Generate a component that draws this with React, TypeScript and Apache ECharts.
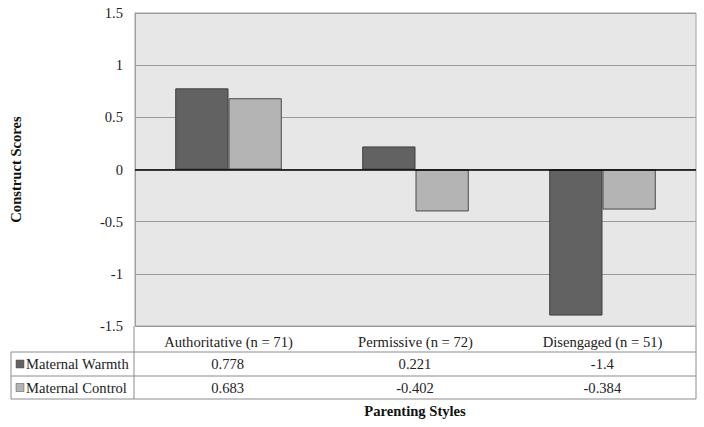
import React, { useEffect, useRef } from "react";
import * as echarts from "echarts";

const categories = ["Authoritative (n = 71)", "Permissive (n = 72)", "Disengaged (n = 51)"];
const seriesNames = ["Maternal Warmth", "Maternal Control"];
const warmth = [0.778, 0.221, -1.4];
const control = [0.683, -0.402, -0.384];
const warmthLabels = ["0.778", "0.221", "-1.4"];
const controlLabels = ["0.683", "-0.402", "-0.384"];
const colors = ["#626262", "#b4b4b4"];

const FONT = "'Liberation Serif', 'Times New Roman', serif";
const FS = 14.6;
const W = 704;
const H = 427;
const GL = 134;
const GR = 696;
const GT = 13;
const GB = 326;

export default function App() {
  const ref = useRef<HTMLDivElement>(null);
  useEffect(() => {
    if (!ref.current) return;
    const chart = echarts.init(ref.current, undefined, { renderer: "svg" });
    const colW = (GR - GL) / categories.length;
    const rowY = [326, 352, 376, 399];
    const tableLine = "#8c8c8c";
    const graphic: any[] = [];
    const hline = (x1: number, x2: number, y: number) =>
      graphic.push({ type: "line", shape: { x1, y1: y, x2, y2: y }, style: { stroke: tableLine, lineWidth: 1 }, silent: true });
    const vline = (x: number, y1: number, y2: number) =>
      graphic.push({ type: "line", shape: { x1: x, y1, x2: x, y2 }, style: { stroke: tableLine, lineWidth: 1 }, silent: true });
    hline(11, GR, rowY[1]);
    hline(11, GR, rowY[2]);
    hline(11, GR, rowY[3]);
    vline(11, rowY[1], rowY[3]);
    vline(GL, rowY[0], rowY[3]);
    vline(GR, rowY[0], rowY[3]);
    const rows = [warmthLabels, controlLabels];
    rows.forEach((vals, r) => {
      const cy = (rowY[r + 1] + rowY[r + 2]) / 2;
      graphic.push({
        type: "rect",
        shape: { x: 16, y: cy - 4, width: 8, height: 8 },
        style: { fill: colors[r], stroke: "#505050", lineWidth: 0.5 },
        silent: true,
      });
      graphic.push({
        type: "text",
        x: 26,
        y: cy,
        style: { text: seriesNames[r], font: `${FS}px ${FONT}`, fill: "#222", verticalAlign: "middle" },
        silent: true,
      });
      vals.forEach((v, i) => {
        graphic.push({
          type: "text",
          x: GL + colW * (i + 0.5),
          y: cy,
          style: { text: v, font: `${FS}px ${FONT}`, fill: "#222", align: "center", verticalAlign: "middle" },
          silent: true,
        });
      });
    });
    graphic.push({
      type: "text",
      x: (GL + GR) / 2,
      y: 411,
      style: { text: "Parenting Styles", font: `bold ${FS}px ${FONT}`, fill: "#111", align: "center", verticalAlign: "middle" },
      silent: true,
    });

    chart.setOption({
      animation: false,
      backgroundColor: "#ffffff",
      textStyle: { fontFamily: FONT },
      grid: {
        left: GL,
        right: W - GR,
        top: GT,
        bottom: H - GB,
        show: true,
        backgroundColor: "#e7e7e7",
        borderColor: "#a0a0a0",
        borderWidth: 1,
      },
      xAxis: {
        type: "category",
        data: categories,
        axisLine: { show: false, onZero: false },
        axisTick: { show: false },
        axisLabel: { fontSize: FS, color: "#222", fontFamily: FONT, margin: 8 },
      },
      yAxis: {
        type: "value",
        min: -1.5,
        max: 1.5,
        interval: 0.5,
        name: "Construct Scores",
        nameLocation: "middle",
        nameGap: 112,
        nameTextStyle: { fontSize: FS, fontWeight: "bold", color: "#111", fontFamily: FONT },
        axisLine: { show: true, lineStyle: { color: "#a0a0a0" } },
        axisTick: { show: false },
        axisLabel: { fontSize: FS, color: "#222", fontFamily: FONT, margin: 12 },
        splitLine: { show: true, lineStyle: { color: "#9a9a9a", width: 1 } },
      },
      series: [
        {
          name: seriesNames[0],
          type: "bar",
          data: warmth,
          barGap: "0%",
          barCategoryGap: "43%",
          itemStyle: { color: colors[0], borderColor: "#404040", borderWidth: 1 },
          markLine: {
            silent: true,
            symbol: "none",
            label: { show: false },
            lineStyle: { color: "#000", width: 1.5, type: "solid" },
            data: [{ yAxis: 0 }],
          },
        },
        {
          name: seriesNames[1],
          type: "bar",
          data: control,
          itemStyle: { color: colors[1], borderColor: "#4a4a4a", borderWidth: 1 },
        },
      ],
      graphic,
    });
    return () => chart.dispose();
  }, []);
  return <div ref={ref} style={{ width: W, height: H, position: "absolute", left: 0, top: 0 }} />;
}
